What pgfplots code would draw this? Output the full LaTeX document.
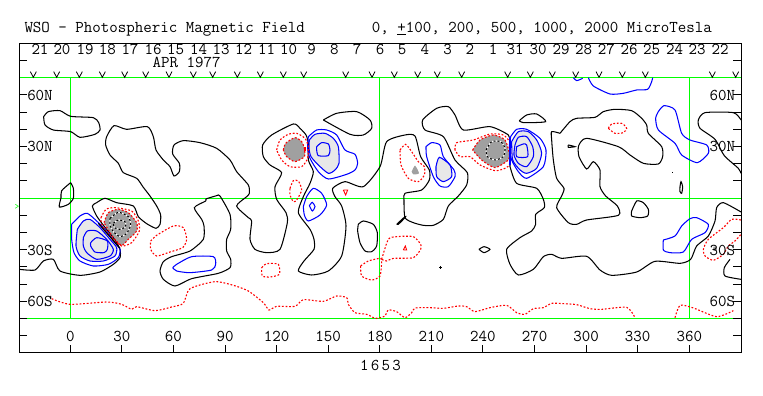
\documentclass[border=0pt]{standalone}
\usepackage{pgfplots}
\pgfplotsset{compat=1.18}
\definecolor{lg}{RGB}{232,232,232}
\definecolor{dg}{RGB}{160,160,160}
\definecolor{gr}{RGB}{0,255,0}
\definecolor{bl}{RGB}{0,0,255}
\definecolor{rd}{RGB}{255,0,0}
\newcommand{\wfont}{\ttfamily\fontsize{16.5}{16.5}\selectfont}
\pgfdeclareplotmark{vee}{\pgfsetlinewidth{0.8pt}\pgfpathmoveto{\pgfpoint{-3pt}{5.7pt}}\pgfpathlineto{\pgfpoint{0pt}{0pt}}\pgfpathlineto{\pgfpoint{3pt}{5.7pt}}\pgfusepathqstroke}
\pgfdeclareplotmark{dtick}{\pgfsetlinewidth{0.9pt}\pgfpathmoveto{\pgfpoint{0pt}{0pt}}\pgfpathlineto{\pgfpoint{0pt}{-10pt}}\pgfusepathqstroke}
\pgfplotsset{
 img/.style={x filter/.expression={(x/3-70.3)/1.7194}, y filter/.expression={(198.15-y/3)/1.7194}},
 K/.style={img,black,line width=1.05pt,smooth,tension=0.4,mark=none},
 B/.style={img,bl,line width=1.05pt,smooth,tension=0.4,mark=none},
 R/.style={img,rd,line width=1.1pt,dash pattern=on 1.8pt off 1.8pt,smooth,tension=0.4,mark=none},
 FL/.style={img,fill=lg,draw=none,smooth,tension=0.4,mark=none},
 FD/.style={img,fill=dg,draw=none,smooth,tension=0.4,mark=none},
 WU/.style={img,white,line width=1.1pt,smooth,tension=0.4,mark=none},
 KD/.style={img,black,line width=1.1pt,dash pattern=on 2pt off 2pt,smooth,tension=0.4,mark=none},
 TXT/.style={img,draw=none,mark=none,nodes near coords,point meta=explicit symbolic,
   nodes near coords style={anchor=center,font=\wfont,inner sep=0pt,text=black}},
}
\begin{document}
\begin{tikzpicture}
\useasboundingbox (-19.3pt,-43.1pt) rectangle ++(763pt,396pt);
\begin{axis}[
 scale only axis,width=722pt,height=309.5pt,at={(0pt,0pt)},anchor=south west,
 xmin=-29.66,xmax=390.25,ymin=-90,ymax=90,
 axis on top,
 axis line style={line width=1.05pt},
 xtick={0,30,...,360},
 ytick={-80,-70,-60,-50,-40,-30,-20,-10,10,20,30,40,50,60,80},
 yticklabels={},
 xtick pos=bottom,
 tick align=inside,
 major tick length=8pt,
 tick style={black,line width=0.95pt},
 xticklabel style={font=\wfont,anchor=base,yshift=11.5pt,inner sep=0pt},
 /pgf/number format/assume math mode=true,
]
% green grid
\addplot[gr,line width=1.05pt] coordinates {(-30,70)(391,70)};
\addplot[gr,line width=1.05pt] coordinates {(-30,0)(391,0)};
\addplot[gr,line width=1.05pt] coordinates {(-30,-70)(391,-70)};
\addplot[gr,line width=1.05pt] coordinates {(0,70)(0,-70)};
\addplot[gr,line width=1.05pt] coordinates {(180,70)(180,-70)};
\addplot[gr,line width=0.8pt] coordinates {(360,70)(360,-70)};
% fills
\addplot[FL] coordinates {(232,688)(250,663)(270,658)(300,683)(330,718)(350,743)(345,768)(310,783)(270,783)(240,768)(228,738)(232,688)} -- cycle;
\addplot[FL] coordinates {(928,420)(945,403)(975,400)(1000,415)(1015,440)(1017,490)(1005,510)(985,520)(955,495)(933,470)(927,445)(928,420)} -- cycle;
\addplot[FL] coordinates {(1535,425)(1555,395)(1585,395)(1610,420)(1625,460)(1610,505)(1580,520)(1560,510)(1538,480)(1535,425)} -- cycle;
\addplot[FL] coordinates {(1308,500)(1318,472)(1350,495)(1355,530)(1330,545)(1310,530)(1308,500)} -- cycle;
\addplot[FD] coordinates {(312,668)(325,638)(355,628)(385,638)(410,668)(410,693)(385,718)(365,736)(340,713)(312,668)} -- cycle;
\addplot[FD] coordinates {(850,450)(857,430)(885,413)(905,425)(913,445)(913,470)(885,485)(860,470)(850,450)} -- cycle;
\addplot[FD] coordinates {(1418,450)(1440,420)(1480,405)(1515,420)(1528,460)(1525,480)(1485,503)(1445,480)(1418,450)} -- cycle;
\addplot[FD] coordinates {(1235,515)(1245,497)(1257,520)(1240,523)(1235,515)} -- cycle;
\addplot[FD] coordinates {(2140,740)(2150,740)(2150,752)(2140,752)(2140,740)} -- cycle;
% zero contours
\addplot[K] coordinates {(131,350)(145,335)(180,332)(212,349)(280,353)(296,368)(300,390)(285,403)(240,412)(212,395)(160,390)(135,375)(131,350)};
\addplot[K] coordinates {(58,808)(105,810)(130,783)(160,778)(180,813)(240,826)(300,816)(340,793)(360,773)(360,748)(345,720)(312,678)(290,648)(277,618)(290,608)(315,595)(350,608)(400,618)(415,650)(440,671)(468,685)(480,673)(482,645)(470,618)(450,588)(430,562)(410,535)(370,518)(355,490)(330,465)(317,435)(320,410)(342,377)(380,388)(442,380)(460,410)(468,450)(490,480)(510,500)(522,528)(538,515)(538,490)(518,462)(522,435)(550,422)(600,428)(650,445)(690,480)(710,515)(745,555)(748,580)(740,590)(710,618)(745,653)(755,663)(750,718)(765,748)(800,758)(840,748)(862,668)(858,638)(830,598)(825,560)(845,518)(810,495)(790,470)(788,435)(815,405)(880,372)(900,385)(918,405)(925,430)(925,480)(940,515)(930,550)(910,590)(895,638)(930,688)(942,718)(942,748)(912,783)(895,813)(935,825)(985,813)(1025,768)(1038,678)(1025,618)(1005,590)(998,565)(1035,545)(1090,560)(1140,500)(1160,425)(1215,405)(1245,408)(1262,470)(1288,510)(1288,540)(1265,570)(1215,580)(1212,600)(1215,653)(1240,668)(1270,676)(1300,676)(1330,658)(1345,618)(1375,588)(1400,555)(1402,518)(1365,480)(1330,410)(1275,390)(1268,360)(1310,325)(1345,320)(1365,345)(1390,390)(1470,380)(1525,405)(1530,430)(1530,490)(1530,500)(1550,550)(1610,565)(1630,598)(1633,623)(1607,643)(1607,673)(1595,693)(1560,713)(1520,748)(1530,793)(1555,825)(1600,808)(1630,770)(1655,763)(1685,775)(1760,769)(1800,810)(1835,826)(1910,816)(1965,784)(2040,790)(2072,778)(2090,738)(2125,708)(2145,663)(2150,623)(2170,608)(2223,636)};
\addplot[K] coordinates {(212,548)(220,565)(220,595)(205,613)(178,621)(183,593)(185,572)(212,548)};
\addplot[K] coordinates {(970,360)(1010,340)(1070,335)(1110,360)(1115,385)(1090,405)(1050,403)(970,360)};
\addplot[K] coordinates {(617,597)(650,587)(660,588)(690,643)(692,688)(680,718)(680,753)(692,778)(690,803)(655,820)(575,836)(525,858)(490,838)(480,813)(490,785)(515,770)(570,753)(610,718)(612,678)(605,658)(583,623)(617,603)(617,597)};
\addplot[K] coordinates {(1075,673)(1090,663)(1120,673)(1132,698)(1130,738)(1115,755)(1095,753)(1080,728)(1073,693)(1075,673)};
\addplot[K] coordinates {(1558,362)(1580,345)(1610,342)(1637,365)(1570,368)(1558,362)};
\addplot[K] coordinates {(1680,400)(1710,365)(1730,355)(1785,352)(1810,335)(1845,328)(1895,332)(1925,355)(1940,375)(1945,400)(1985,440)(1988,470)(1975,492)(1930,490)(1890,465)(1855,440)(1760,415)(1736,437)(1737,470)(1760,507)(1780,485)(1800,510)(1800,560)(1817,588)(1852,618)(1855,646)(1760,660)(1730,673)(1705,668)(1670,623)(1685,588)(1692,565)(1670,535)(1660,480)(1655,420)(1655,395)(1680,400)};
\addplot[K] coordinates {(1705,435)(1705,442)(1725,440)(1705,435)};
\addplot[K] coordinates {(2018,516)(2018,520)};
\addplot[K] coordinates {(2040,560)(2043,545)(2048,560)(2045,580)(2040,575)(2040,560)};
\addplot[K] coordinates {(1895,633)(1910,603)(1930,608)(1945,628)(1943,648)(1920,653)(1895,648)(1895,633)};
\addplot[K] coordinates {(1190,673)(1215,650)(1215,653)(1195,673)(1190,673)};
\addplot[K] coordinates {(1437,748)(1452,740)(1470,748)(1452,758)(1437,748)};
\addplot[K] coordinates {(1317,802)(1325,802)};
\addplot[K] coordinates {(1321,798)(1321,806)};
\addplot[K] coordinates {(2223,360)(2200,338)(2115,338)(2095,360)(2100,385)(2145,418)(2173,467)(2215,505)(2223,520)};
\addplot[K] coordinates {(2190,778)(2173,803)(2175,828)(2223,838)};
% positive (blue)
\addplot[B] coordinates {(215,673)(240,648)(262,640)(290,663)(320,693)(345,728)(360,748)(355,773)(325,793)(280,798)(240,783)(222,758)(215,718)(215,673)};
\addplot[B] coordinates {(232,688)(250,663)(270,658)(300,683)(330,718)(350,743)(345,768)(310,783)(270,783)(240,768)(228,738)(232,688)};
\addplot[B] coordinates {(250,713)(262,693)(290,693)(320,718)(340,748)(330,768)(290,778)(260,758)(250,738)(250,713)};
\addplot[B] coordinates {(272,728)(290,713)(322,723)(322,748)(312,758)(285,756)(272,738)(272,728)};
\addplot[B] coordinates {(518,803)(530,793)(575,770)(640,770)(647,793)(635,810)(570,818)(530,813)(518,803)};
\addplot[B] coordinates {(925,410)(950,390)(980,390)(1010,405)(1035,450)(1065,463)(1073,490)(1065,510)(1040,523)(985,537)(955,515)(930,475)(923,445)(925,410)};
\addplot[B] coordinates {(928,420)(945,403)(975,400)(1000,415)(1015,440)(1017,490)(1005,510)(985,520)(955,495)(933,470)(927,445)(928,420)};
\addplot[B] coordinates {(950,440)(965,428)(985,432)(990,450)(985,467)(955,467)(950,450)(950,440)};
\addplot[B] coordinates {(910,620)(920,590)(940,565)(965,580)(980,615)(960,645)(925,663)(913,645)(910,620)};
\addplot[B] coordinates {(928,617)(937,607)(945,620)(937,633)(928,617)};
\addplot[B] coordinates {(1532,410)(1550,388)(1580,388)(1620,415)(1638,450)(1630,500)(1580,535)(1555,515)(1535,480)(1528,440)(1532,410)};
\addplot[B] coordinates {(1535,425)(1555,395)(1585,395)(1610,420)(1625,460)(1610,505)(1580,520)(1560,510)(1538,480)(1535,425)};
\addplot[B] coordinates {(1545,435)(1555,412)(1580,410)(1598,440)(1600,470)(1580,500)(1555,490)(1542,465)(1545,435)};
\addplot[B] coordinates {(1550,440)(1570,432)(1580,435)(1583,470)(1550,470)(1550,440)};
\addplot[B] coordinates {(1278,440)(1295,428)(1320,435)(1330,470)(1362,510)(1365,530)(1345,560)(1320,558)(1300,530)(1280,470)(1278,440)};
\addplot[B] coordinates {(1308,500)(1318,472)(1350,495)(1355,530)(1330,545)(1310,530)(1308,500)};
\addplot[B] coordinates {(1720,233)(1730,242)(1748,235)};
\addplot[B] coordinates {(1765,233)(1780,258)(1830,282)(1870,280)(1910,270)(1943,268)(1955,245)(1958,233)};
\addplot[B] coordinates {(1975,335)(1992,317)(2025,330)(2045,400)(2070,420)(2120,435)(2125,460)(2092,488)(2045,465)(2025,430)(1975,390)(1967,355)(1975,335)};
\addplot[B] coordinates {(1990,720)(2025,708)(2045,678)(2070,656)(2090,653)(2125,673)(2115,698)(2075,718)(2050,756)(2010,758)(1990,750)(1990,720)};
% negative (red)
\addplot[R] coordinates {(303,653)(318,628)(345,623)(395,633)(415,663)(418,693)(395,728)(365,738)(335,713)(305,673)(303,653)};
\addplot[R] coordinates {(312,668)(325,638)(355,628)(385,638)(410,668)(410,693)(385,718)(365,736)(340,713)(312,668)};
\addplot[R] coordinates {(452,723)(470,706)(520,678)(550,683)(560,718)(548,743)(510,756)(470,768)(452,748)(452,723)};
\addplot[R] coordinates {(785,803)(800,791)(835,793)(838,823)(810,831)(787,828)(785,803)};
\addplot[R] coordinates {(155,896)(210,913)(320,906)(365,913)(395,928)(410,920)(465,932)(515,921)(550,910)(570,866)(645,845)(700,856)(745,873)(790,908)(807,930)(830,919)(885,919)(910,899)(970,904)(1010,888)(1040,893)(1045,913)(1065,938)(1100,943)(1125,955)(1140,953)(1155,948)(1165,930)(1190,935)(1215,953)(1235,938)(1245,924)(1290,923)(1330,925)(1375,918)(1400,920)(1425,935)(1470,923)(1520,916)(1550,938)(1575,943)(1600,926)(1630,923)(1655,910)(1690,911)(1730,914)(1770,926)(1805,928)(1880,922)(1905,953)};
\addplot[R] coordinates {(2025,953)(2040,916)(2080,924)(2150,950)(2200,932)};
\addplot[R] coordinates {(1082,798)(1105,783)(1140,775)(1145,783)(1140,828)(1115,840)(1085,828)(1082,798)};
\addplot[R] coordinates {(1145,778)(1165,718)(1190,710)(1240,710)(1262,733)(1262,748)(1240,773)(1180,775)(1160,783)(1145,778)};
\addplot[img,rd,line width=0.9pt,mark=none] coordinates {(1210,750)(1220,750)(1216,738)(1210,750)};
\addplot[img,rd,line width=0.9pt,mark=none] coordinates {(1030,570)(1043,570)(1037,585)(1030,570)};
\addplot[R] coordinates {(1825,385)(1835,372)(1865,370)(1880,385)(1870,398)(1845,400)(1825,385)};
\addplot[R] coordinates {(870,565)(880,542)(895,543)(905,570)(890,600)(880,605)(870,585)(870,565)};
\addplot[R] coordinates {(830,450)(840,420)(865,403)(890,400)(915,415)(925,440)(923,475)(905,500)(870,500)(845,480)(830,450)};
\addplot[R] coordinates {(850,450)(857,430)(885,413)(905,425)(913,445)(913,470)(885,485)(860,470)(850,450)};
\addplot[img,rd,line width=2pt,mark=none] coordinates {(915,442)(915,452)};
\addplot[R] coordinates {(1365,450)(1370,428)(1420,420)(1470,402)(1510,405)(1530,430)(1530,490)(1515,505)(1485,512)(1440,495)(1410,470)(1380,470)(1365,450)};
\addplot[R] coordinates {(1418,450)(1440,420)(1480,405)(1515,420)(1528,460)(1525,480)(1485,503)(1445,480)(1418,450)};
\addplot[R] coordinates {(1200,450)(1217,433)(1235,455)(1255,485)(1273,500)(1273,525)(1255,545)(1225,535)(1203,495)(1200,450)};
\addplot[R] coordinates {(2223,660)(2195,658)(2170,683)(2125,718)(2110,748)(2115,768)(2140,781)(2170,763)(2185,738)(2205,723)(2223,703)};
% strong negative contours: black dashes on white
\addplot[WU] coordinates {(330,655)(355,637)(385,650)(392,675)(380,700)(360,710)(340,695)(330,675)(330,655)};
\addplot[KD] coordinates {(330,655)(355,637)(385,650)(392,675)(380,700)(360,710)(340,695)(330,675)(330,655)};
\addplot[WU] coordinates {(340,670)(355,660)(375,665)(377,680)(360,688)(343,683)(340,670)};
\addplot[KD] coordinates {(340,670)(355,660)(375,665)(377,680)(360,688)(343,683)(340,670)};
\addplot[WU] coordinates {(1458,450)(1475,425)(1502,425)(1515,445)(1510,470)(1485,480)(1462,470)(1458,450)};
\addplot[KD] coordinates {(1458,450)(1475,425)(1502,425)(1515,445)(1510,470)(1485,480)(1462,470)(1458,450)};
% steep neutral lines
\addplot[img,black,line width=1.2pt,mark=none] coordinates {(295,670)(360,745)};
\addplot[img,bl,line width=1.6pt,mark=none] coordinates {(1530,410)(1530,495)};
% day ticks and Vs
\addplot[img,only marks,mark=dtick] coordinates {(85,130)(152,130)(220,130)(290,130)(358,130)(427,130)(495,130)(565,130)(632,130)(700,130)(768,130)(838,130)(905,130)(968,130)(1037,130)(1105,130)(1170,130)(1240,130)(1308,130)(1375,130)(1443,130)(1512,130)(1581,130)(1649,130)(1717,130)(1785,130)(1853,130)(1921,130)(1990,130)(2058,130)(2127,130)(2195,130)};
\addplot[img,only marks,mark=vee] coordinates {(100,232)(170,232)(238,232)(307,232)(374,232)(437,232)(507,232)(580,232)(638,232)(712,232)(781,232)(850,232)(911,232)(1037,232)(1116,232)(1183,232)(1253,232)(1312,232)(1385,232)(1523,232)(1591,232)(1657,232)(1727,232)(1797,232)(1867,232)(1936,232)(2137,232)(2207,232)};
% text labels
\addplot[TXT] coordinates {(120,148)[21](186,148)[20](255,148)[19](322,148)[18](390,148)[17](459,148)[16](527,148)[15](596,148)[14](663,148)[13](731,148)[12](800,148)[11](866,148)[10](935,148)[9](1003,148)[8](1071,148)[7](1140,148)[6](1206,148)[5](1275,148)[4](1343,148)[3](1410,148)[2](1479,148)[1](1545,148)[31](1614,148)[30](1683,148)[29](1751,148)[28](1819,148)[27](1887,148)[26](1955,148)[25](2024,148)[24](2091,148)[23](2160,148)[22]};
\addplot[TXT] coordinates {(120,285)[60N](120,440)[30N](120,750)[30S](120,904)[60S](2167,285)[60N](2167,440)[30N](2167,750)[30S](2167,904)[60S]};
\end{axis}
\node[anchor=base west,inner sep=0pt,font=\wfont] at (5pt,320pt) {WSO - Photospheric Magnetic Field};
\node[anchor=base west,inner sep=0pt,font=\wfont] at (352.4pt,320pt) {0, \underline{+}100, 200, 500, 1000, 2000 MicroTesla};
\node[inner sep=0pt,font=\wfont] at (167.4pt,290.2pt) {APR 1977};
\node[inner sep=0pt,font=\wfont] at (361.2pt,-13pt) {1\hspace{2.3pt}6\hspace{2.3pt}5\hspace{2.3pt}3};
\node[inner sep=0pt,text=gr,font=\ttfamily\fontsize{9}{9}\selectfont] at (-2.4pt,145.9pt) {>};
\end{tikzpicture}
\end{document}
